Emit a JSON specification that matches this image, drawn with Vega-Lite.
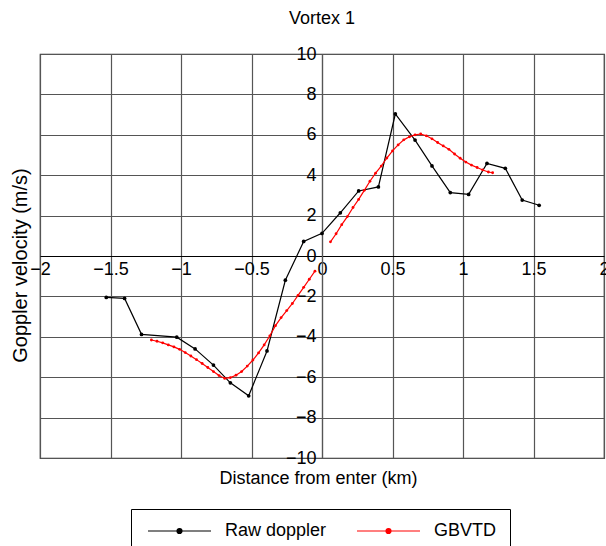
{
  "$schema": "https://vega.github.io/schema/vega-lite/v6.json",
  "width": 564,
  "height": 404,
  "autosize": {"type": "none"},
  "padding": {"left": 40, "top": 54, "right": 2, "bottom": 88},
  "background": "white",
  "config": {
    "font": "Liberation Sans",
    "view": {"stroke": "#333", "strokeWidth": 1.2},
    "axis": {"labelFont": "Liberation Sans", "titleFont": "Liberation Sans", "labelColor": "black", "titleColor": "black", "labelFontSize": 18, "titleFontSize": 18, "titleFontWeight": "normal", "ticks": false, "gridColor": "#555", "gridWidth": 1.2, "gridOpacity": 1, "labelOverlap": false, "labelFlush": false}
  },
  "title": {"text": "Vortex 1", "fontSize": 18, "fontWeight": "normal", "font": "Liberation Sans", "color": "black", "offset": 17},
  "data": {"values": [
    {"x": -1.53, "y": -2.05, "series": "Raw doppler", "seg": "r"},
    {"x": -1.40, "y": -2.10, "series": "Raw doppler", "seg": "r"},
    {"x": -1.28, "y": -3.88, "series": "Raw doppler", "seg": "r"},
    {"x": -1.03, "y": -4.02, "series": "Raw doppler", "seg": "r"},
    {"x": -0.90, "y": -4.60, "series": "Raw doppler", "seg": "r"},
    {"x": -0.77, "y": -5.40, "series": "Raw doppler", "seg": "r"},
    {"x": -0.65, "y": -6.28, "series": "Raw doppler", "seg": "r"},
    {"x": -0.52, "y": -6.92, "series": "Raw doppler", "seg": "r"},
    {"x": -0.39, "y": -4.70, "series": "Raw doppler", "seg": "r"},
    {"x": -0.26, "y": -1.20, "series": "Raw doppler", "seg": "r"},
    {"x": -0.13, "y": 0.72, "series": "Raw doppler", "seg": "r"},
    {"x": 0.00, "y": 1.12, "series": "Raw doppler", "seg": "r"},
    {"x": 0.13, "y": 2.14, "series": "Raw doppler", "seg": "r"},
    {"x": 0.26, "y": 3.22, "series": "Raw doppler", "seg": "r"},
    {"x": 0.40, "y": 3.42, "series": "Raw doppler", "seg": "r"},
    {"x": 0.52, "y": 7.03, "series": "Raw doppler", "seg": "r"},
    {"x": 0.66, "y": 5.74, "series": "Raw doppler", "seg": "r"},
    {"x": 0.78, "y": 4.46, "series": "Raw doppler", "seg": "r"},
    {"x": 0.91, "y": 3.14, "series": "Raw doppler", "seg": "r"},
    {"x": 1.04, "y": 3.05, "series": "Raw doppler", "seg": "r"},
    {"x": 1.17, "y": 4.58, "series": "Raw doppler", "seg": "r"},
    {"x": 1.30, "y": 4.34, "series": "Raw doppler", "seg": "r"},
    {"x": 1.42, "y": 2.77, "series": "Raw doppler", "seg": "r"},
    {"x": 1.54, "y": 2.51, "series": "Raw doppler", "seg": "r"},
    {"x": -1.21, "y": -4.16, "series": "GBVTD", "seg": "a"},
    {"x": -1.17, "y": -4.22, "series": "GBVTD", "seg": "a"},
    {"x": -1.13, "y": -4.30, "series": "GBVTD", "seg": "a"},
    {"x": -1.09, "y": -4.40, "series": "GBVTD", "seg": "a"},
    {"x": -1.05, "y": -4.50, "series": "GBVTD", "seg": "a"},
    {"x": -1.01, "y": -4.62, "series": "GBVTD", "seg": "a"},
    {"x": -0.97, "y": -4.78, "series": "GBVTD", "seg": "a"},
    {"x": -0.93, "y": -4.95, "series": "GBVTD", "seg": "a"},
    {"x": -0.89, "y": -5.13, "series": "GBVTD", "seg": "a"},
    {"x": -0.85, "y": -5.32, "series": "GBVTD", "seg": "a"},
    {"x": -0.81, "y": -5.52, "series": "GBVTD", "seg": "a"},
    {"x": -0.77, "y": -5.72, "series": "GBVTD", "seg": "a"},
    {"x": -0.73, "y": -5.92, "series": "GBVTD", "seg": "a"},
    {"x": -0.69, "y": -6.06, "series": "GBVTD", "seg": "a"},
    {"x": -0.65, "y": -6.02, "series": "GBVTD", "seg": "a"},
    {"x": -0.61, "y": -5.90, "series": "GBVTD", "seg": "a"},
    {"x": -0.57, "y": -5.72, "series": "GBVTD", "seg": "a"},
    {"x": -0.53, "y": -5.45, "series": "GBVTD", "seg": "a"},
    {"x": -0.49, "y": -5.15, "series": "GBVTD", "seg": "a"},
    {"x": -0.45, "y": -4.80, "series": "GBVTD", "seg": "a"},
    {"x": -0.41, "y": -4.40, "series": "GBVTD", "seg": "a"},
    {"x": -0.37, "y": -3.95, "series": "GBVTD", "seg": "a"},
    {"x": -0.33, "y": -3.45, "series": "GBVTD", "seg": "a"},
    {"x": -0.29, "y": -3.05, "series": "GBVTD", "seg": "a"},
    {"x": -0.25, "y": -2.70, "series": "GBVTD", "seg": "a"},
    {"x": -0.21, "y": -2.35, "series": "GBVTD", "seg": "a"},
    {"x": -0.17, "y": -1.95, "series": "GBVTD", "seg": "a"},
    {"x": -0.13, "y": -1.55, "series": "GBVTD", "seg": "a"},
    {"x": -0.09, "y": -1.15, "series": "GBVTD", "seg": "a"},
    {"x": -0.05, "y": -0.75, "series": "GBVTD", "seg": "a"},
    {"x": 0.06, "y": 0.70, "series": "GBVTD", "seg": "b"},
    {"x": 0.10, "y": 1.10, "series": "GBVTD", "seg": "b"},
    {"x": 0.14, "y": 1.55, "series": "GBVTD", "seg": "b"},
    {"x": 0.18, "y": 1.95, "series": "GBVTD", "seg": "b"},
    {"x": 0.22, "y": 2.40, "series": "GBVTD", "seg": "b"},
    {"x": 0.26, "y": 2.80, "series": "GBVTD", "seg": "b"},
    {"x": 0.30, "y": 3.25, "series": "GBVTD", "seg": "b"},
    {"x": 0.34, "y": 3.70, "series": "GBVTD", "seg": "b"},
    {"x": 0.38, "y": 4.10, "series": "GBVTD", "seg": "b"},
    {"x": 0.42, "y": 4.45, "series": "GBVTD", "seg": "b"},
    {"x": 0.46, "y": 4.85, "series": "GBVTD", "seg": "b"},
    {"x": 0.50, "y": 5.20, "series": "GBVTD", "seg": "b"},
    {"x": 0.54, "y": 5.50, "series": "GBVTD", "seg": "b"},
    {"x": 0.58, "y": 5.75, "series": "GBVTD", "seg": "b"},
    {"x": 0.62, "y": 5.90, "series": "GBVTD", "seg": "b"},
    {"x": 0.66, "y": 6.00, "series": "GBVTD", "seg": "b"},
    {"x": 0.70, "y": 6.04, "series": "GBVTD", "seg": "b"},
    {"x": 0.74, "y": 5.95, "series": "GBVTD", "seg": "b"},
    {"x": 0.78, "y": 5.80, "series": "GBVTD", "seg": "b"},
    {"x": 0.82, "y": 5.62, "series": "GBVTD", "seg": "b"},
    {"x": 0.86, "y": 5.45, "series": "GBVTD", "seg": "b"},
    {"x": 0.90, "y": 5.28, "series": "GBVTD", "seg": "b"},
    {"x": 0.94, "y": 5.05, "series": "GBVTD", "seg": "b"},
    {"x": 0.98, "y": 4.84, "series": "GBVTD", "seg": "b"},
    {"x": 1.02, "y": 4.65, "series": "GBVTD", "seg": "b"},
    {"x": 1.06, "y": 4.50, "series": "GBVTD", "seg": "b"},
    {"x": 1.10, "y": 4.38, "series": "GBVTD", "seg": "b"},
    {"x": 1.14, "y": 4.26, "series": "GBVTD", "seg": "b"},
    {"x": 1.18, "y": 4.16, "series": "GBVTD", "seg": "b"},
    {"x": 1.21, "y": 4.12, "series": "GBVTD", "seg": "b"}
  ]},
  "encoding": {
    "x": {"field": "x", "type": "quantitative",
      "scale": {"domain": [-2, 2], "nice": false, "zero": false},
      "axis": {"values": [-2, -1.5, -1, -0.5, 0, 0.5, 1, 1.5, 2], "format": ".1~f", "grid": true, "offset": -202, "domainColor": "black", "domainWidth": 1.2, "labelPadding": 4, "title": "Distance from enter (km)", "titleY": 222, "titleBaseline": "middle", "titleX": 278}},
    "y": {"field": "y", "type": "quantitative",
      "scale": {"domain": [-10, 10], "nice": false},
      "axis": {"values": [-10, -8, -6, -4, -2, 0, 2, 4, 6, 8, 10], "format": "d", "grid": true, "offset": -282, "domainColor": "#555", "domainWidth": 1.2, "labelPadding": 6, "title": "Goppler velocity (m/s)", "titleFontSize": 20, "titleX": -302, "titleY": 211, "titleBaseline": "middle"}},
    "color": {"field": "series", "type": "nominal",
      "scale": {"domain": ["Raw doppler", "GBVTD"], "range": ["black", "red"]},
      "legend": {"orient": "none", "legendX": 91, "legendY": 455, "direction": "horizontal", "title": null,
        "strokeColor": "black", "padding": 13, "labelFontSize": 18, "labelFont": "Liberation Sans", "labelColor": "black", "labelOffset": 63, "columnPadding": 26,
        "symbolType": "M-1,0L11.6,0M5.8,0A0.5,0.5,0,1,1,4.8,0A0.5,0.5,0,1,1,5.8,0Z", "symbolSize": 100, "symbolStrokeWidth": 1.2,
        "encode": {"symbols": {"update": {"fill": {"scale": "color", "field": "value"}, "fillOpacity": {"value": 1}}}}}},
    "detail": {"field": "seg"}
  },
  "layer": [
    {"transform": [{"filter": "datum.series == 'Raw doppler'"}],
     "mark": {"type": "line", "strokeWidth": 1.2, "point": {"size": 14, "filled": true, "color": "black"}}},
    {"transform": [{"filter": "datum.series == 'GBVTD'"}],
     "mark": {"type": "line", "strokeWidth": 1.2, "point": {"size": 8, "filled": true, "color": "red"}}}
  ]
}
